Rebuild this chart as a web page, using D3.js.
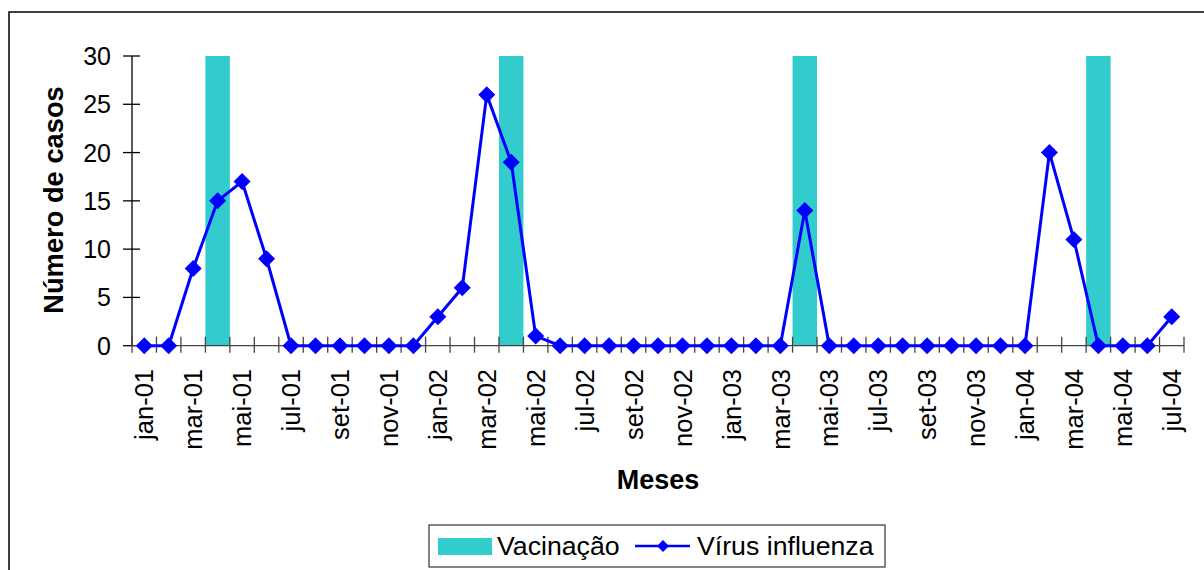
<html>
<head>
<script src="https://d3js.org/d3.v7.min.js"></script>
<style>
body { margin: 0; background: #fff; }
text { font-family: "Liberation Sans", Arial, sans-serif; }
</style>
</head>
<body>
<script>
const meses = ["jan","fev","mar","abr","mai","jun","jul","ago","set","out","nov","dez"];
const anos = ["01","02","03","04"];
const categorias = [];
anos.forEach(a => meses.forEach(m => categorias.push(m + "-" + a)));
categorias.splice(43);   // jan-01 .. jul-04

const virus = [0,0,8,15,17,9,0,0,0,0,0,0,
               3,6,26,19,1,0,0,0,0,0,0,0,
               0,0,0,14,0,0,0,0,0,0,0,0,
               0,20,11,0,0,0,3];
const vacinacaoMeses = ["abr-01","abr-02","abr-03","abr-04"];
const vacinacaoValor = 30;
const yTicks = [0,5,10,15,20,25,30];

const width = 1204, height = 570;
const svg = d3.select("body").append("svg").attr("width", width).attr("height", height);

// outer chart border
svg.append("rect").attr("x", 9).attr("y", 12).attr("width", 1210).attr("height", 580)
    .attr("fill", "none").attr("stroke", "#000").attr("stroke-width", 1.5);

const x = d3.scaleBand().domain(categorias).range([132, 1184]).padding(0);
const y = d3.scaleLinear().domain([0, 30]).range([345.7, 56]);

// vaccination bars
svg.append("g").selectAll("rect")
    .data(vacinacaoMeses)
    .join("rect")
    .attr("x", d => x(d))
    .attr("width", x.bandwidth())
    .attr("y", y(vacinacaoValor))
    .attr("height", y(0) - y(vacinacaoValor))
    .attr("fill", "#33CCCC");

// y axis
const yAxis = svg.append("g");
yAxis.append("line").attr("x1", 132).attr("x2", 132).attr("y1", y(30)).attr("y2", y(0))
    .attr("stroke", "#000").attr("stroke-width", 1.3);
yAxis.selectAll("line.t").data(yTicks).join("line").attr("class", "t")
    .attr("x1", 123).attr("x2", 140).attr("y1", d => y(d)).attr("y2", d => y(d))
    .attr("stroke", "#000").attr("stroke-width", 1.3);
yAxis.selectAll("text").data(yTicks).join("text")
    .attr("x", 111).attr("y", d => y(d)).attr("dy", "0.36em")
    .attr("text-anchor", "end").attr("font-size", 25).text(d => d);

// x axis
const xAxis = svg.append("g");
xAxis.append("line").attr("x1", 132).attr("x2", 1184).attr("y1", y(0)).attr("y2", y(0))
    .attr("stroke", "#444").attr("stroke-width", 1.3);
const bordas = categorias.map(c => x(c)).concat([x.range()[1]]);
xAxis.selectAll("line.t").data(bordas).join("line").attr("class", "t")
    .attr("x1", d => d).attr("x2", d => d).attr("y1", y(0) - 9).attr("y2", y(0) + 7)
    .attr("stroke", "#444").attr("stroke-width", 1.3);
xAxis.selectAll("text").data(categorias.filter((c, i) => i % 2 === 0)).join("text")
    .attr("transform", d => `translate(${x(d) + x.bandwidth() / 2},369) rotate(-90)`)
    .attr("dy", "0.36em").attr("text-anchor", "end").attr("font-size", 25.5).text(d => d);

// virus line
const line = d3.line().x((d, i) => x(categorias[i]) + x.bandwidth() / 2).y(d => y(d));
svg.append("path").datum(virus).attr("d", line)
    .attr("fill", "none").attr("stroke", "#0000FF").attr("stroke-width", 3);
svg.append("g").selectAll("path").data(virus).join("path")
    .attr("transform", (d, i) => `translate(${x(categorias[i]) + x.bandwidth() / 2},${y(d)})`)
    .attr("d", "M0,-8.5L8.5,0L0,8.5L-8.5,0Z").attr("fill", "#0000FF");

// axis titles
svg.append("text").attr("transform", "translate(53,200) rotate(-90)")
    .attr("dy", "0.36em").attr("text-anchor", "middle")
    .attr("font-size", 27.3).attr("font-weight", "bold").text("Número de casos");
svg.append("text").attr("x", 658).attr("y", 489).attr("text-anchor", "middle")
    .attr("font-size", 27).attr("font-weight", "bold").text("Meses");

// legend
const leg = svg.append("g");
leg.append("rect").attr("x", 429).attr("y", 525).attr("width", 456).attr("height", 42)
    .attr("fill", "#fff").attr("stroke", "#333").attr("stroke-width", 1.2);
leg.append("rect").attr("x", 438).attr("y", 538).attr("width", 54).attr("height", 17).attr("fill", "#33CCCC");
leg.append("text").attr("x", 497).attr("y", 555).attr("font-size", 26.7).text("Vacinação");
leg.append("line").attr("x1", 635).attr("x2", 690).attr("y1", 546).attr("y2", 546)
    .attr("stroke", "#0000FF").attr("stroke-width", 2.5);
leg.append("path").attr("transform", "translate(663,546)").attr("d", "M0,-6L6,0L0,6L-6,0Z").attr("fill", "#0000FF");
leg.append("text").attr("x", 697).attr("y", 555).attr("font-size", 26.7).text("Vírus influenza");
</script>
</body>
</html>
